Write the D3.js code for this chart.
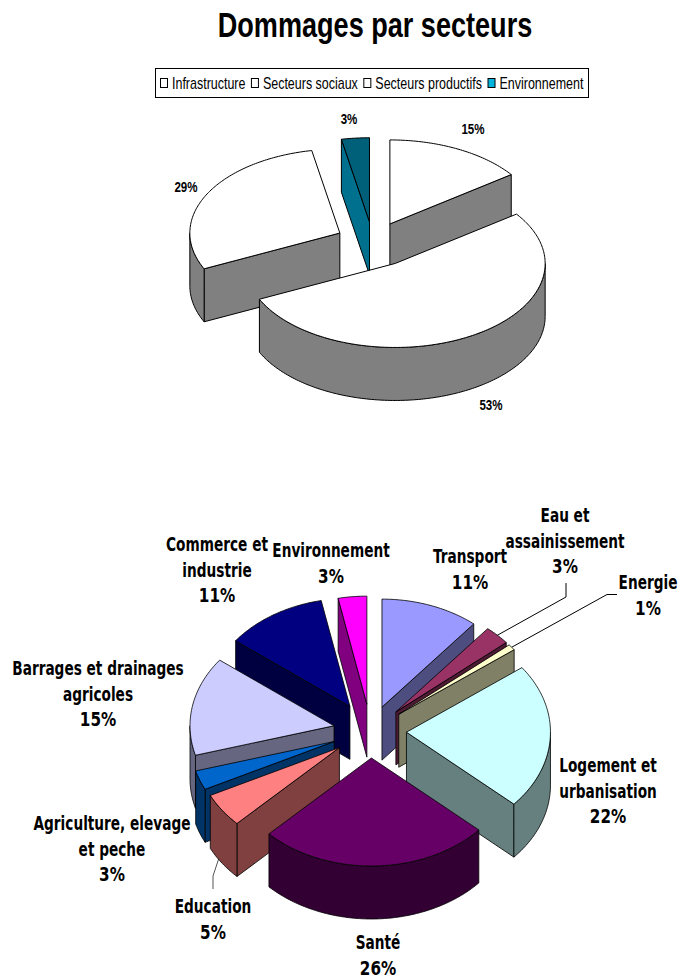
<!DOCTYPE html>
<html>
<head>
<meta charset="utf-8">
<script src="https://cdnjs.cloudflare.com/ajax/libs/d3/7.8.5/d3.min.js"></script>
<style>
html,body{margin:0;padding:0;background:#fff;}
svg{display:block;}
</style>
</head>
<body>
<div id="chart"></div>
<script>
// ---- Data ----
const titleText = "Dommages par secteurs";
const sectorNames = ["Infrastructure", "Secteurs sociaux", "Secteurs productifs", "Environnement"];
const sectorValues = [15, 53, 29, 3];
const detailNames = [
  ["Transport"],
  ["Eau et", "assainissement"],
  ["Energie"],
  ["Logement et", "urbanisation"],
  ["Santé"],
  ["Education"],
  ["Agriculture, elevage", "et peche"],
  ["Barrages et drainages", "agricoles"],
  ["Commerce et", "industrie"],
  ["Environnement"]
];
// Slice sizes; the printed labels are these values rounded.
const detailValues = [11, 2.9, 0.9, 21.8, 26, 5.1, 2.9, 14.8, 11.4, 3.2];

// ---- Styles ----
const sectorTop  = ["#ffffff", "#ffffff", "#ffffff", "#00607a"];
const sectorSide = ["#808080", "#808080", "#808080", "#00708f"];
const sectorSwatch = ["#ffffff", "#ffffff", "#ffffff", "#00b4dc"];
const detailTop  = ["#9999ff", "#993366", "#ffffcc", "#ccffff", "#660066", "#ff8080", "#0066cc", "#ccccff", "#000080", "#ff00ff"];
const detailSide = ["#4d4d80", "#4d1a33", "#808066", "#668080", "#330033", "#804040", "#003366", "#666680", "#000040", "#800080"];

// ---- Layout ----
const W = 678, H = 978;
const sectorGeom = {cx: 373, cy: 242.5, rx: 150, ry: 84, depth: 53, sw: 1,
  explode: [0.248, 0.29, 0.248, 0.248]};
const detailGeom = {cx: 370.5, cy: 731, rx: 144, ry: 108, depth: 53, sw: 0.8,
  explode: [0.235, 0.25, 0.25, 0.25, 0.25, 0.265, 0.27, 0.258, 0.269, 0.25]};
const sectorLabelAt = [[473, 134], [491, 410], [186, 192], [349, 124]];
const detailLabelAt = [
  [470, 563], [565, 522], [648, 589], [608, 772], [378, 949],
  [213, 913], [112, 830], [98, 675], [217, 551], [331, 557]
];
const leaders = [
  {slice: 1, elbow: [[566, 597], [566, 583]], color: "#000"},
  {slice: 2, elbow: [[607, 594.5], [617, 594.5]], color: "#000"},
  {slice: 5, elbow: [[213, 876], [213, 889]], color: "#555", drop: true}
];

const svg = d3.select("#chart").append("svg")
  .attr("width", W).attr("height", H).attr("viewBox", `0 0 ${W} ${H}`);
svg.append("rect").attr("width", W).attr("height", H).attr("fill", "#fff");

const lineClosed = d3.line().curve(d3.curveLinearClosed);
const lineOpen = d3.line();
const DEG = Math.PI / 180;
const BACK = Math.PI / 2, BACK2 = 3 * Math.PI / 2;

function layoutPie(values) {
  return d3.pie().value(d => d).sort(null)(values).map((a, i) => ({...a, i, mid: (a.startAngle + a.endAngle) / 2}));
}
function apex(g, d) {
  const e = g.explode[d.i];
  return [g.cx + e * g.rx * Math.sin(d.mid), g.cy - e * g.ry * Math.cos(d.mid)];
}
function rim(g, o, a) {
  return [o[0] + g.rx * Math.sin(a), o[1] - g.ry * Math.cos(a)];
}
function arcPts(g, o, a0, a1) {
  const pts = d3.range(a0, a1, DEG).map(a => rim(g, o, a));
  pts.push(rim(g, o, a1));
  return pts;
}
const down = (p, d) => [p[0], p[1] + d];

function drawPie(root, values, topFill, sideFill, g) {
  const arcs = layoutPie(values);
  const order = arcs.slice().sort((a, b) => d3.descending(Math.cos(a.mid), Math.cos(b.mid)));
  const group = root.append("g").attr("stroke", "#000").attr("stroke-width", g.sw).attr("stroke-linejoin", "round");
  const slices = group.selectAll("g.slice").data(order).join("g").attr("class", "slice");
  slices.each(function (d) {
    const s = d3.select(this);
    const o = apex(g, d);
    const oD = down(o, g.depth);
    const face = pts => s.append("path").attr("d", lineClosed(pts)).attr("fill", sideFill[d.i]);
    if (Math.sin(d.endAngle) > 1e-6) {
      const e = rim(g, o, d.endAngle);
      face([o, e, down(e, g.depth), oD]);
    }
    if (Math.sin(d.startAngle) < -1e-6) {
      const b = rim(g, o, d.startAngle);
      face([o, b, down(b, g.depth), oD]);
    }
    const a0 = Math.max(d.startAngle, BACK), a1 = Math.min(d.endAngle, BACK2);
    if (a1 > a0) {
      const top = arcPts(g, o, a0, a1);
      face(top.concat(top.slice().reverse().map(p => down(p, g.depth))));
    }
    s.append("path")
      .attr("d", lineClosed([o].concat(arcPts(g, o, d.startAngle, d.endAngle))))
      .attr("fill", topFill[d.i]);
  });
  return arcs;
}

function squeezed(parent, x, y, text, size, sx, family, weight, anchor) {
  return parent.append("text")
    .attr("transform", `translate(${x},${y}) scale(${sx},1)`)
    .attr("text-anchor", anchor || "middle")
    .attr("font-family", family)
    .attr("font-weight", weight)
    .attr("font-size", size)
    .attr("fill", "#000")
    .text(text);
}

// ---- Title ----
const SANS = "'Liberation Sans', Arial, sans-serif";
const VERD = "'DejaVu Sans', Verdana, sans-serif";
squeezed(svg, 375, 37, titleText, 34.5, 0.785, SANS, "bold");

// ---- Legend ----
const legend = svg.append("g");
legend.append("rect").attr("x", 155.5).attr("y", 68.5).attr("width", 433).attr("height", 29)
  .attr("fill", "#fff").attr("stroke", "#000").attr("stroke-width", 1);
let lx = 160.5;
const legendScale = 0.78;
sectorNames.forEach((name, i) => {
  legend.append("rect").attr("x", lx).attr("y", 78.5).attr("width", 7).attr("height", 9)
    .attr("fill", sectorSwatch[i]).attr("stroke", "#000").attr("stroke-width", 1);
  const t = squeezed(legend, lx + 11.5, 89, name, 16, legendScale, SANS, "normal", "start");
  lx += 11.5 + t.node().getComputedTextLength() * legendScale + 6;
});

// ---- Top pie ----
drawPie(svg, sectorValues, sectorTop, sectorSide, sectorGeom);
sectorValues.forEach((v, i) => {
  squeezed(svg, sectorLabelAt[i][0], sectorLabelAt[i][1], v + "%", 15, 0.77, SANS, "bold");
});

// ---- Bottom pie ----
const detailArcs = layoutPie(detailValues);
const leaderLayer = svg.append("g");
drawPie(svg, detailValues, detailTop, detailSide, detailGeom);
leaders.forEach(l => {
  const a = detailArcs[l.slice];
  const o = apex(detailGeom, a);
  let p = rim(detailGeom, o, a.mid);
  if (l.drop) p = down(p, detailGeom.depth * 0.72);
  leaderLayer.append("path")
    .attr("d", lineOpen([p].concat(l.elbow)))
    .attr("fill", "none").attr("stroke", l.color).attr("stroke-width", 1);
});
const LINE = 25.5;
detailValues.forEach((v, i) => {
  const [x, y] = detailLabelAt[i];
  detailNames[i].forEach((ln, k) => {
    squeezed(svg, x, y + k * LINE, ln, 19, 0.72, VERD, "bold");
  });
  squeezed(svg, x, y + detailNames[i].length * LINE, Math.round(v) + "%", 19, 0.8, VERD, "bold");
});
</script>
</body>
</html>
